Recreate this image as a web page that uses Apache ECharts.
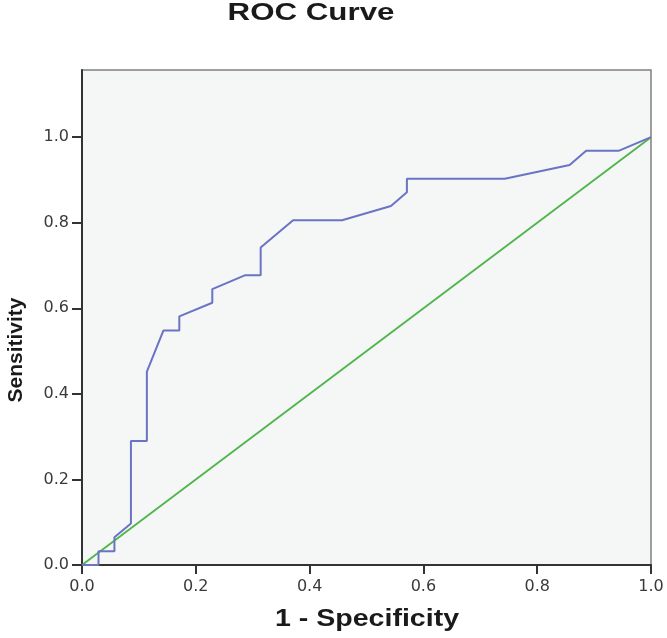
<!DOCTYPE html>
<html>
<head>
<meta charset="utf-8">
<script src="https://cdn.jsdelivr.net/npm/echarts@6/dist/echarts.min.js"></script>
<style>html,body{margin:0;padding:0;background:#fff;}#chart{width:667px;height:638px;}</style>
</head>
<body>
<div id="chart"></div>
<script>
// ROC curve points (1 - Specificity, Sensitivity)
const rocX = [0, 0.029, 0.029, 0.057, 0.057, 0.086, 0.086, 0.114, 0.114, 0.143, 0.171, 0.171, 0.229, 0.229, 0.286, 0.314, 0.314, 0.371, 0.457, 0.543, 0.571, 0.571, 0.743, 0.857, 0.886, 0.943, 1.0];
const rocY = [0, 0, 0.032, 0.032, 0.065, 0.097, 0.290, 0.290, 0.452, 0.548, 0.548, 0.581, 0.613, 0.645, 0.677, 0.677, 0.742, 0.806, 0.806, 0.839, 0.871, 0.903, 0.903, 0.935, 0.968, 0.968, 1.0];
// Reference diagonal
const refX = [0, 1];
const refY = [0, 1];
// Tick labels
const xTicks = [0, 0.2, 0.4, 0.6, 0.8, 1.0];
const yTicks = [0, 0.2, 0.4, 0.6, 0.8, 1.0];
const titleText = 'ROC Curve';
const xName = '1 - Specificity';
const yName = 'Sensitivity';

const chart = echarts.init(document.getElementById('chart'));
const labelStyle = {color: '#3a3a3a', fontFamily: 'DejaVu Sans', fontSize: 16, formatter: v => Number(v).toFixed(1)};
chart.setOption({
  animation: false,
  grid: {left: 82, right: 16, top: 70, bottom: 73, show: true, backgroundColor: '#f5f6f6', borderColor: '#808080', borderWidth: 1.5},
  xAxis: {
    type: 'value', min: 0, max: 1, interval: 0.2,
    axisLine: {show: true, lineStyle: {color: '#333', width: 2}},
    axisTick: {show: true, length: 9, lineStyle: {color: '#333', width: 2}},
    axisLabel: Object.assign({margin: 14}, labelStyle),
    splitLine: {show: false}
  },
  yAxis: {
    type: 'value', min: 0, max: 1.157,
    axisLine: {show: true, lineStyle: {color: '#333', width: 2}},
    axisTick: {show: true, length: 10, customValues: yTicks, lineStyle: {color: '#333', width: 2}},
    axisLabel: Object.assign({margin: 13, customValues: yTicks}, labelStyle),
    splitLine: {show: false}
  },
  series: [
    {type: 'line', data: refX.map((x, i) => [x, refY[i]]), symbol: 'none', lineStyle: {color: '#4fb548', width: 1.8}, z: 2},
    {type: 'line', data: rocX.map((x, i) => [x, rocY[i]]), symbol: 'none', lineStyle: {color: '#6a74c4', width: 2}, z: 3}
  ],
  graphic: [
    {type: 'text', x: 311, y: 14, scaleX: 1.36, style: {text: titleText, x: 0, y: 0, align: 'center', verticalAlign: 'middle', font: 'bold 23px "Liberation Sans", Arial', fill: '#1a1a1a'}},
    {type: 'text', x: 367, y: 619, scaleX: 1.19, style: {text: xName, x: 0, y: 0, align: 'center', verticalAlign: 'middle', font: 'bold 24px "Liberation Sans", Arial', fill: '#1a1a1a'}},
    {type: 'text', x: 16, y: 350, rotation: Math.PI / 2, style: {text: yName, x: 0, y: 0, align: 'center', verticalAlign: 'middle', font: 'bold 21px "Liberation Sans", Arial', fill: '#1a1a1a'}}
  ]
});
</script>
</body>
</html>
